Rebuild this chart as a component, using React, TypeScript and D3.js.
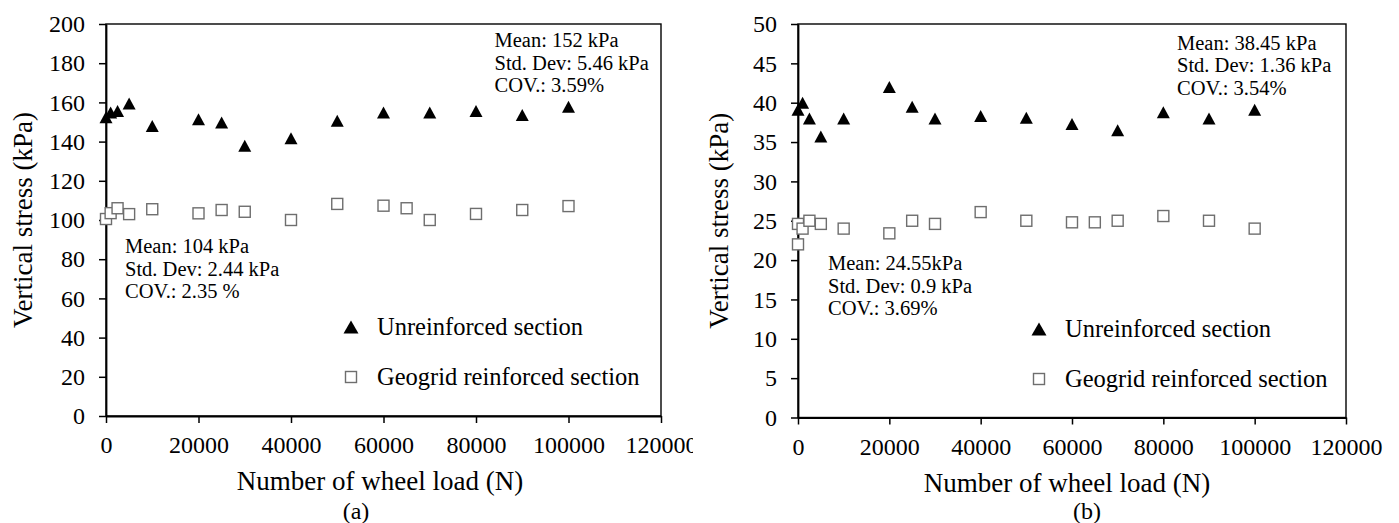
import { useEffect, useRef } from 'react';
import * as d3 from 'd3';

// (a) vertical stress, kPa
const loadsUnrA = [0, 1000, 2500, 5000, 10000, 20000, 25000, 30000, 40000, 50000, 60000, 70000, 80000, 90000, 100000];
const stressUnrA = [152.4, 154.8, 155.6, 159.5, 148, 151.4, 149.7, 137.9, 141.7, 150.7, 154.8, 154.8, 155.6, 153.6, 157.8];
const loadsGeoA = [0, 1000, 2500, 5000, 10000, 20000, 25000, 30000, 40000, 50000, 60000, 65000, 70000, 80000, 90000, 100000];
const stressGeoA = [100.5, 103.5, 106, 103, 105.5, 103.4, 105.1, 104.2, 100, 108.2, 107.3, 106, 100, 103.1, 105.1, 107.1];

// (b) vertical stress, kPa
const loadsUnrB = [0, 1000, 2500, 5000, 10000, 20000, 25000, 30000, 40000, 50000, 60000, 70000, 80000, 90000, 100000];
const stressUnrB = [39.1, 40.0, 38.0, 35.7, 38.0, 42.0, 39.5, 38.0, 38.3, 38.1, 37.3, 36.5, 38.8, 38.0, 39.1];
const loadsGeoB = [0, 0, 1000, 2500, 5000, 10000, 20000, 25000, 30000, 40000, 50000, 60000, 65000, 70000, 80000, 90000, 100000];
const stressGeoB = [24.6, 22.0, 24.0, 25.0, 24.6, 24.0, 23.4, 25.0, 24.6, 26.1, 25.0, 24.8, 24.8, 25.0, 25.6, 25.0, 24.0];

const xTicks = [0, 20000, 40000, 60000, 80000, 100000, 120000];
const yTicksA = [0, 20, 40, 60, 80, 100, 120, 140, 160, 180, 200];
const yTicksB = [0, 5, 10, 15, 20, 25, 30, 35, 40, 45, 50];

const statsUnrA = ['Mean: 152 kPa', 'Std. Dev: 5.46 kPa', 'COV.: 3.59%'];
const statsGeoA = ['Mean: 104 kPa', 'Std. Dev: 2.44 kPa', 'COV.: 2.35 %'];
const statsUnrB = ['Mean: 38.45 kPa', 'Std. Dev: 1.36 kPa', 'COV.: 3.54%'];
const statsGeoB = ['Mean: 24.55kPa', 'Std. Dev: 0.9 kPa', 'COV.: 3.69%'];

const legendLabels = ['Unreinforced section', 'Geogrid reinforced section'];

const FONT = '"Liberation Serif", "Times New Roman", Times, serif';

type Panel = {
  left: number; right: number; top: number; bottom: number;
  yMax: number; yTicks: number[];
  unrX: number[]; unrY: number[]; geoX: number[]; geoY: number[];
  statsTop: string[]; statsTopPos: [number, number];
  statsBottom: string[]; statsBottomPos: [number, number];
  legendPos: [number, number];
  yTitleX: number; xTitlePos: [number, number];
  caption: string; captionPos: [number, number];
  clipWidth?: number;
};

const panels: Panel[] = [
  {
    left: 106, right: 661, top: 24, bottom: 416,
    yMax: 200, yTicks: yTicksA,
    unrX: loadsUnrA, unrY: stressUnrA, geoX: loadsGeoA, geoY: stressGeoA,
    statsTop: statsUnrA, statsTopPos: [494.5, 47],
    statsBottom: statsGeoA, statsBottomPos: [125, 253],
    legendPos: [351, 327],
    yTitleX: 32, xTitlePos: [380, 490],
    caption: '(a)', captionPos: [356, 519],
    clipWidth: 693,
  },
  {
    left: 798, right: 1346, top: 24, bottom: 417.5,
    yMax: 50, yTicks: yTicksB,
    unrX: loadsUnrB, unrY: stressUnrB, geoX: loadsGeoB, geoY: stressGeoB,
    statsTop: statsUnrB, statsTopPos: [1177, 49.5],
    statsBottom: statsGeoB, statsBottomPos: [828, 270],
    legendPos: [1039, 329],
    yTitleX: 728, xTitlePos: [1067, 492],
    caption: '(b)', captionPos: [1087, 519],
  },
];

const triPath = (w: number, h: number) => `M0,${-h / 2}L${w / 2},${h / 2}L${-w / 2},${h / 2}Z`;

function drawPanel(svg: d3.Selection<SVGSVGElement, unknown, null, undefined>, p: Panel, i: number) {
  const g = svg.append('g');
  if (p.clipWidth) {
    svg.append('defs').append('clipPath').attr('id', `clip${i}`)
      .append('rect').attr('x', 0).attr('y', 0).attr('width', p.clipWidth).attr('height', 523);
    g.attr('clip-path', `url(#clip${i})`);
  }

  const x = d3.scaleLinear().domain([0, 120000]).range([p.left, p.right]);
  const y = d3.scaleLinear().domain([0, p.yMax]).range([p.bottom, p.top]);

  // plot frame
  g.append('rect')
    .attr('x', x(0)).attr('y', y(p.yMax))
    .attr('width', x(120000) - x(0)).attr('height', y(0) - y(p.yMax))
    .attr('fill', 'none').attr('stroke', '#000').attr('stroke-width', 1.4);

  const yAxis = g.append('g')
    .attr('transform', `translate(${p.left},0)`)
    .call(d3.axisLeft(y).tickValues(p.yTicks).tickSize(7).tickPadding(14).tickSizeOuter(0));

  const xAxis = g.append('g')
    .attr('transform', `translate(0,${p.bottom})`)
    .call(d3.axisBottom(x).tickValues(xTicks).tickFormat(d3.format('d')).tickSize(7).tickPadding(13).tickSizeOuter(0));

  [yAxis, xAxis].forEach(ax => {
    ax.select('.domain').attr('stroke', '#000').attr('stroke-width', 1.8);
    ax.selectAll('.tick line').attr('stroke', '#000').attr('stroke-width', 1.5);
    ax.selectAll('.tick text')
      .attr('fill', '#000')
      .style('font-family', FONT)
      .style('font-size', '24px');
  });

  // unreinforced: filled triangles
  g.selectAll('.unr')
    .data(p.unrX)
    .enter()
    .append('path')
    .attr('class', 'unr')
    .attr('d', triPath(13, 12))
    .attr('transform', (d, k) => `translate(${x(d)},${y(p.unrY[k])})`)
    .attr('fill', '#000');

  // geogrid: open squares
  g.selectAll('.geo')
    .data(p.geoX)
    .enter()
    .append('rect')
    .attr('class', 'geo')
    .attr('x', d => x(d) - 5.5)
    .attr('y', (d, k) => y(p.geoY[k]) - 5.5)
    .attr('width', 11).attr('height', 11)
    .attr('fill', '#fff')
    .attr('stroke', '#6e6e6e')
    .attr('stroke-width', 1.4);

  const addLines = (lines: string[], pos: [number, number]) => {
    const t = g.append('text')
      .attr('x', pos[0]).attr('y', pos[1])
      .style('font-family', FONT).style('font-size', '20.5px').attr('fill', '#000');
    lines.forEach((s, k) => {
      t.append('tspan').attr('x', pos[0]).attr('y', pos[1] + k * 22.7).text(s);
    });
  };
  addLines(p.statsTop, p.statsTopPos);
  addLines(p.statsBottom, p.statsBottomPos);

  // legend
  const [lx, ly] = p.legendPos;
  g.append('path').attr('d', triPath(15, 13)).attr('transform', `translate(${lx},${ly})`).attr('fill', '#000');
  g.append('rect')
    .attr('x', lx - 5.5).attr('y', ly + 50 - 5.5).attr('width', 11).attr('height', 11)
    .attr('fill', '#fff').attr('stroke', '#6e6e6e').attr('stroke-width', 1.4);
  legendLabels.forEach((s, k) => {
    g.append('text')
      .attr('x', lx + 26).attr('y', ly + 7.5 + k * 50)
      .style('font-family', FONT).style('font-size', '24.5px').attr('fill', '#000')
      .text(s);
  });

  // axis titles
  g.append('text')
    .attr('transform', `translate(${p.yTitleX},${(p.top + p.bottom) / 2}) rotate(-90)`)
    .attr('text-anchor', 'middle')
    .style('font-family', FONT).style('font-size', '27px').attr('fill', '#000')
    .text('Vertical stress (kPa)');

  g.append('text')
    .attr('x', p.xTitlePos[0]).attr('y', p.xTitlePos[1])
    .attr('text-anchor', 'middle')
    .style('font-family', FONT).style('font-size', '27px').attr('fill', '#000')
    .text('Number of wheel load (N)');

  g.append('text')
    .attr('x', p.captionPos[0]).attr('y', p.captionPos[1])
    .attr('text-anchor', 'middle')
    .style('font-family', FONT).style('font-size', '24px').attr('fill', '#000')
    .text(p.caption);
}

const App = () => {
  const svgRef = useRef<SVGSVGElement | null>(null);

  useEffect(() => {
    if (!svgRef.current) return;
    const svg = d3.select(svgRef.current);
    svg.selectAll('*').remove();
    panels.forEach((p, i) => drawPanel(svg, p, i));
  }, []);

  return (
    <svg
      ref={svgRef}
      width={1399}
      height={523}
      style={{ position: 'absolute', left: 0, top: 0, background: '#fff' }}
    />
  );
};

export default App;
